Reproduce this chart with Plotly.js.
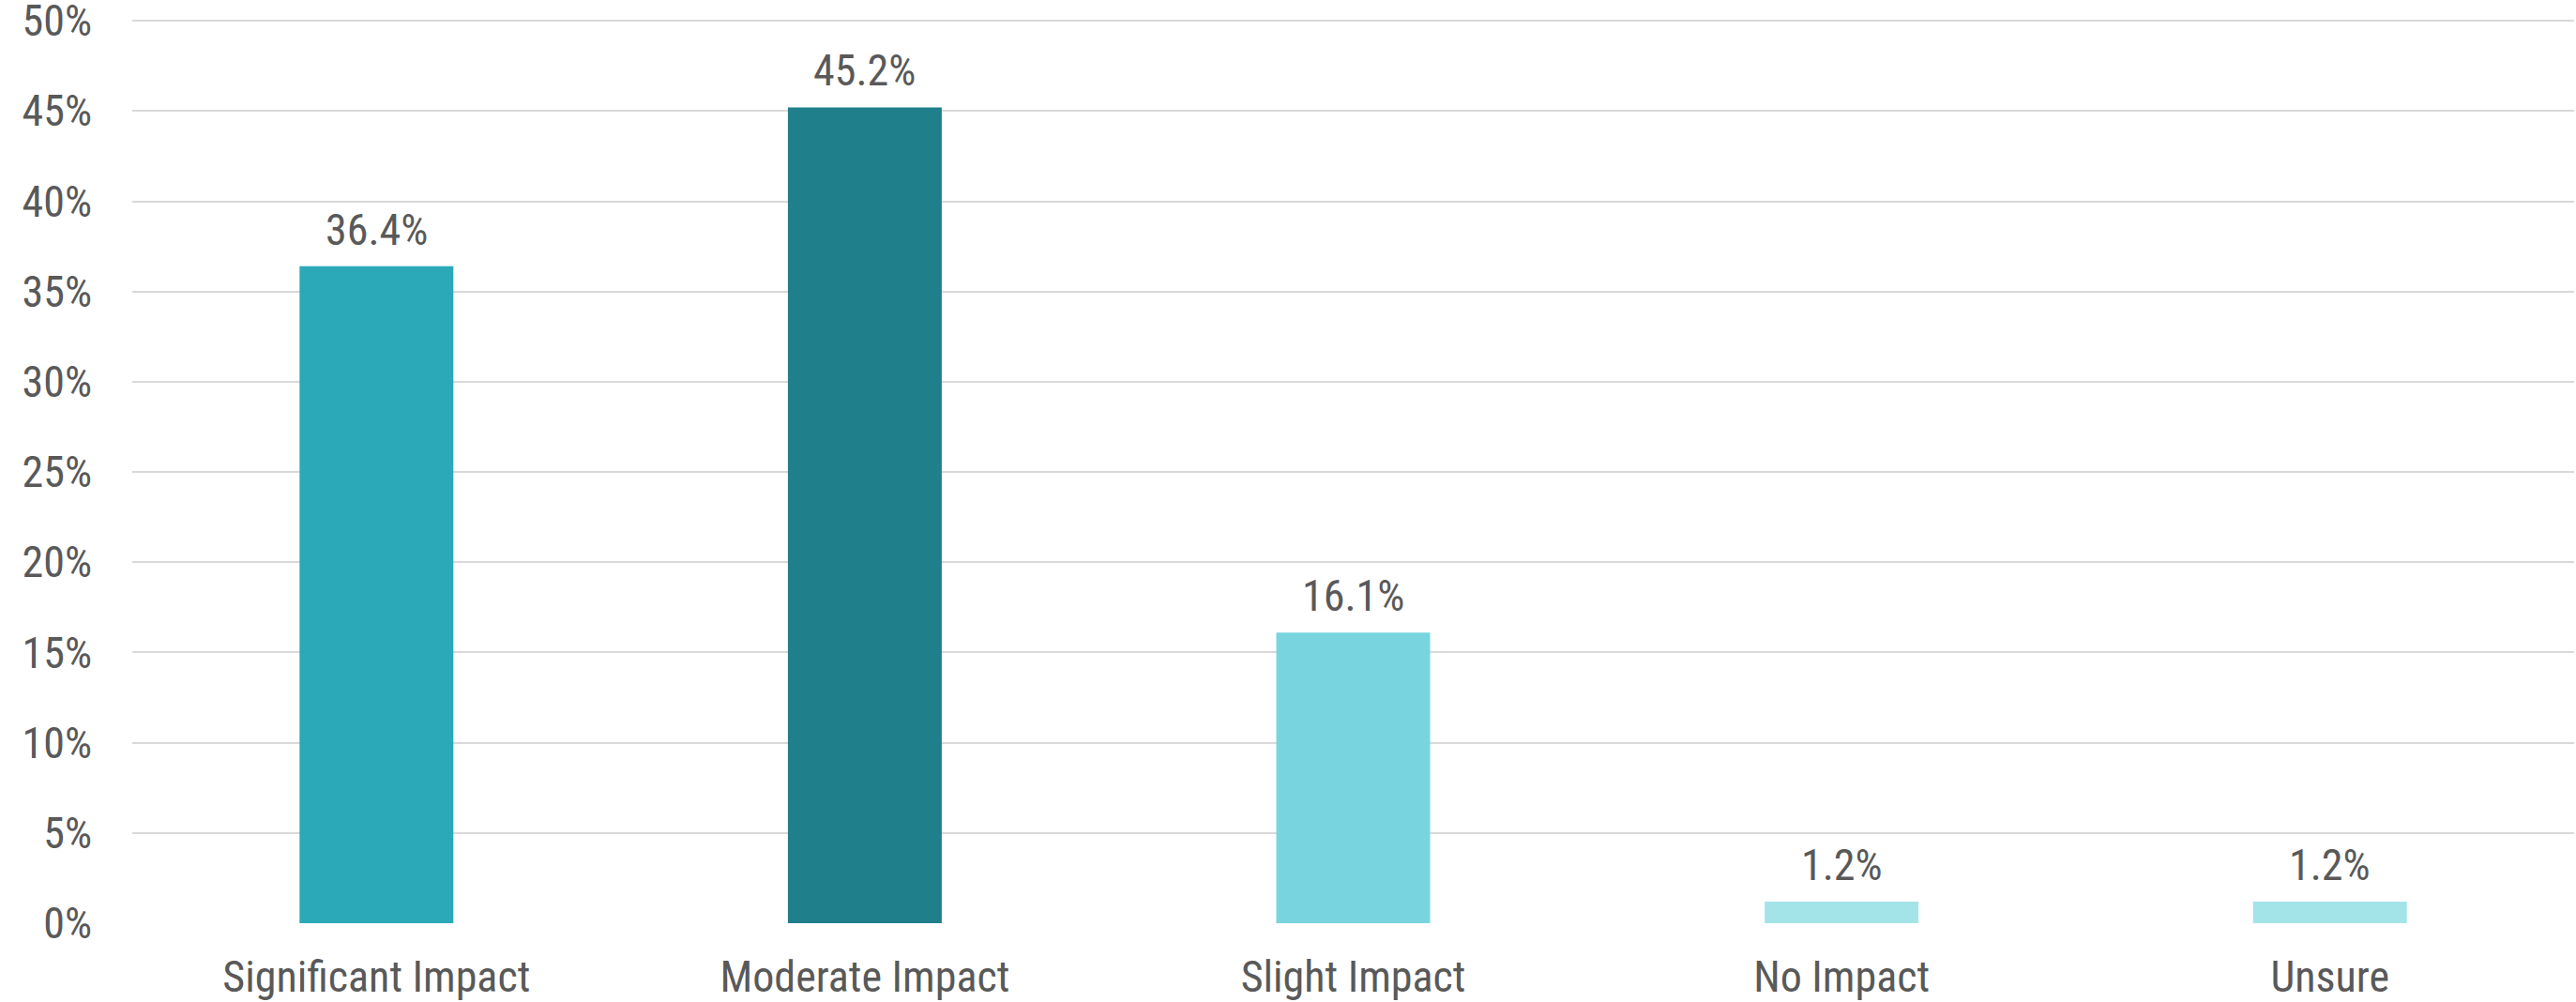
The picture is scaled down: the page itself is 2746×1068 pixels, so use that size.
<!DOCTYPE html>
<html>
<head>
<meta charset="utf-8">
<script src="https://cdn.plot.ly/plotly-3.0.1.min.js"></script>
<style>
  html, body { margin: 0; padding: 0; background: #ffffff; }
  #chart { width: 2746px; height: 1068px; }
</style>
</head>
<body>
<div id="chart"></div>
<script>
// Survey responses: level of impact
const categories = ["Significant Impact", "Moderate Impact", "Slight Impact", "No Impact", "Unsure"];
const shares = [36.4, 45.2, 16.1, 1.2, 1.2];
const barColors = ["#2BA9B8", "#1F7F8A", "#78D5DF", "#A3E4E9", "#A3E4E9"];
const yTickValues = [0, 5, 10, 15, 20, 25, 30, 35, 40, 45, 50];
const yTickLabels = ["0%", "5%", "10%", "15%", "20%", "25%", "30%", "35%", "40%", "45%", "50%"];

const fontFamily = "'Liberation Sans Narrow', 'Arial Narrow', 'Roboto Condensed', 'Liberation Sans', sans-serif";
const textColor = "#595959";

const trace = {
  type: "bar",
  x: categories,
  y: shares,
  marker: { color: barColors, line: { width: 0 } },
  hoverinfo: "skip"
};

// value labels above each bar
const labels = categories.map((c, i) => ({
  x: c,
  y: shares[i],
  xref: "x",
  yref: "y",
  text: shares[i].toFixed(1) + "%",
  showarrow: false,
  yanchor: "bottom",
  yshift: 10,
  font: { family: fontFamily, size: 46, color: textColor }
}));

const layout = {
  width: 2746,
  height: 1068,
  margin: { l: 141, r: 2, t: 21, b: 84, pad: 0 },
  paper_bgcolor: "#ffffff",
  plot_bgcolor: "#ffffff",
  showlegend: false,
  bargap: 0.685,
  font: { family: fontFamily, size: 46, color: textColor },
  xaxis: {
    type: "category",
    showgrid: false,
    showline: false,
    zeroline: false,
    ticks: "",
    ticklabelstandoff: 26,
    tickfont: { family: fontFamily, size: 46, color: textColor }
  },
  yaxis: {
    range: [0, 50.06],
    tickvals: yTickValues,
    ticktext: yTickLabels,
    showgrid: true,
    gridcolor: "#D9D9D9",
    gridwidth: 2,
    zeroline: false,
    showline: false,
    ticks: "",
    ticklabelstandoff: 42,
    ticklabeloverflow: "allow",
    tickfont: { family: fontFamily, size: 46, color: textColor }
  },
  annotations: labels
};

Plotly.newPlot("chart", [trace], layout, { displayModeBar: false, staticPlot: true });
</script>
</body>
</html>
